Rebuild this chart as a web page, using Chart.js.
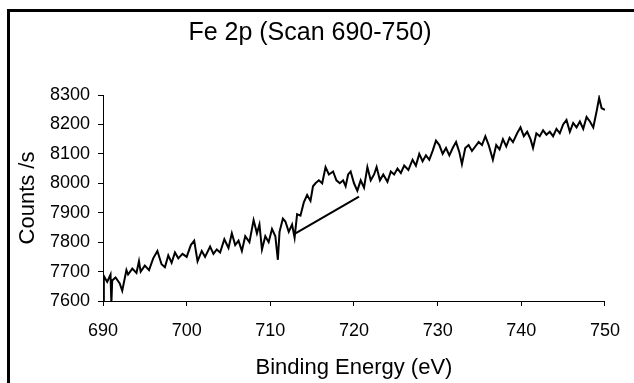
<!DOCTYPE html>
<html>
<head>
<meta charset="utf-8">
<script src="https://cdn.jsdelivr.net/npm/chart.js@4.4.1/dist/chart.umd.min.js"></script>
<style>
  html, body { margin: 0; padding: 0; background: #fff; }
  #wrap { width: 634px; height: 383px; }
</style>
</head>
<body>
<div id="wrap"><canvas id="xps" width="634" height="383"></canvas></div>
<script>
// Fe 2p scan
var energia = [
  690.0, 690.1, 690.5, 690.9, 691.0, 691.1, 691.5, 692.0, 692.3, 692.8,
  693.0, 693.5, 694.0, 694.3, 694.5, 695.0, 695.5, 696.0, 696.5, 697.0,
  697.4, 697.8, 698.2, 698.6, 699.0, 699.5, 700.0, 700.5, 700.9, 701.3,
  701.8, 702.2, 702.8, 703.2, 703.6, 704.0, 704.5, 705.0, 705.4, 705.8,
  706.2, 706.6, 707.0, 707.5, 708.0, 708.4, 708.7, 709.0, 709.4, 709.8,
  710.2, 710.6, 710.9, 711.1, 711.5, 711.8, 712.2, 712.6, 712.9, 713.2,
  713.6, 714.0, 714.4, 714.8, 715.1, 715.4, 715.8, 716.2, 716.6, 717.0,
  717.5, 717.9, 718.3, 718.7, 719.0, 719.3, 719.6, 720.0, 720.4, 720.8,
  721.2, 721.6, 722.0, 722.4, 722.7, 723.1, 723.5, 724.0, 724.4, 724.8,
  725.2, 725.6, 726.0, 726.5, 727.0, 727.4, 727.8, 728.2, 728.6, 729.0,
  729.4, 729.8, 730.2, 730.6, 731.0, 731.4, 731.8, 732.2, 732.6, 732.9,
  733.3, 733.7, 734.1, 734.5, 734.9, 735.3, 735.7, 736.1, 736.6, 737.0,
  737.4, 737.8, 738.2, 738.6, 739.0, 739.5, 739.9, 740.3, 740.7, 741.1,
  741.4, 741.8, 742.2, 742.6, 743.0, 743.4, 743.8, 744.2, 744.6, 745.0,
  745.4, 745.8, 746.2, 746.6, 747.0, 747.4, 747.8, 748.2, 748.6, 749.0,
  749.3, 749.6, 750.0
];
var contagens = [
  7590, 7685, 7665, 7690, 7590, 7670, 7680, 7660, 7635, 7705,
  7690, 7710, 7695, 7735, 7700, 7720, 7705, 7745, 7770, 7725,
  7715, 7755, 7730, 7765, 7745, 7760, 7750, 7790, 7805, 7735,
  7770, 7750, 7785, 7760, 7775, 7765, 7810, 7780, 7830, 7790,
  7805, 7770, 7820, 7800, 7875, 7830, 7860, 7775, 7820, 7800,
  7845, 7820, 7740, 7835, 7880, 7870, 7835, 7860, 7815, 7895,
  7890, 7935, 7960, 7940, 7990, 8000, 8010, 8000, 8055, 8030,
  8040, 8010, 8000, 8010, 7990, 8030, 8040, 8000, 7975, 8010,
  7985, 8055, 8010, 8030, 8055, 8010, 8030, 8005, 8040, 8030,
  8050, 8035, 8060, 8045, 8080, 8060, 8100, 8075, 8095, 8080,
  8110, 8145, 8130, 8100, 8120, 8095, 8120, 8140, 8105, 8065,
  8120, 8130, 8110, 8125, 8140, 8130, 8160, 8130, 8080, 8130,
  8115, 8150, 8125, 8155, 8140, 8170, 8190, 8160, 8175, 8150,
  8120, 8170, 8160, 8180, 8165, 8175, 8160, 8185, 8170, 8200,
  8215, 8175, 8205, 8190, 8210, 8185, 8225, 8210, 8190, 8245,
  8290, 8255, 8250
];
// background line under the peak
var fundoX = [712.9, 720.6];
var fundoY = [7828, 7955];

var xTicks = [690, 700, 710, 720, 730, 740, 750];
var yTicks = [7600, 7700, 7800, 7900, 8000, 8100, 8200, 8300];

var serie = energia.map(function (e, i) { return { x: e, y: contagens[i] }; });
var fundo = fundoX.map(function (e, i) { return { x: e, y: fundoY[i] }; });

const moldura = {
    id: 'moldura',
    afterDraw: function (chart) {
        const c = chart.ctx;
        c.save();
        c.strokeStyle = '#000';
        c.lineWidth = 3;
        c.strokeRect(8.5, 10.5, 660, 400);
        c.restore();
    }
};

document.addEventListener('DOMContentLoaded', function () {
    const ctx = document.getElementById('xps').getContext('2d');
    const fonte = "'Liberation Sans', Arial, sans-serif";

    new Chart(ctx, {
        type: 'line',
        data: {
            datasets: [{
                data: serie,
                borderColor: '#000',
                borderWidth: 2,
                pointRadius: 0,
                tension: 0
            }, {
                data: fundo,
                borderColor: '#000',
                borderWidth: 2,
                pointRadius: 0,
                tension: 0
            }]
        },
        options: {
            responsive: false,
            animation: false,
            layout: { padding: { left: 0, right: 14, top: 0, bottom: 0 } },
            scales: {
                x: {
                    type: 'linear',
                    min: 690,
                    max: 750,
                    afterFit: function (s) { s.height = 82; },
                    afterBuildTicks: function (s) { s.ticks = xTicks.map(function (v) { return { value: v }; }); },
                    grid: { drawOnChartArea: false, drawTicks: true, tickLength: 5, color: '#000' },
                    border: { display: true, color: '#000', width: 1 },
                    ticks: {
                        color: '#000', padding: 14, maxRotation: 0, autoSkip: false,
                        font: { family: fonte, size: 18 },
                        callback: function (v) { return String(v); }
                    },
                    title: {
                        display: true,
                        text: 'Binding Energy (eV)',
                        color: '#000',
                        font: { family: fonte, size: 22 },
                        padding: { top: 0, bottom: 2 }
                    }
                },
                y: {
                    min: 7600,
                    max: 8300,
                    afterFit: function (s) { s.width = 103; },
                    afterBuildTicks: function (s) { s.ticks = yTicks.map(function (v) { return { value: v }; }); },
                    grid: { drawOnChartArea: false, drawTicks: true, tickLength: 5, color: '#000' },
                    border: { display: true, color: '#000', width: 1 },
                    ticks: {
                        color: '#000', padding: 8, autoSkip: false,
                        font: { family: fonte, size: 18 },
                        callback: function (v) { return String(v); }
                    },
                    title: {
                        display: true,
                        text: 'Counts /s',
                        color: '#000',
                        font: { family: fonte, size: 22 },
                        padding: { top: 15, bottom: 0 }
                    }
                }
            },
            plugins: {
                legend: { display: false },
                tooltip: { enabled: false },
                title: {
                    display: true,
                    text: 'Fe 2p (Scan 690-750)',
                    color: '#000',
                    font: { family: fonte, size: 25, weight: 'normal' },
                    padding: { top: 18, bottom: 47 }
                }
            }
        },
        plugins: [moldura]
    });
});
</script>
</body>
</html>
